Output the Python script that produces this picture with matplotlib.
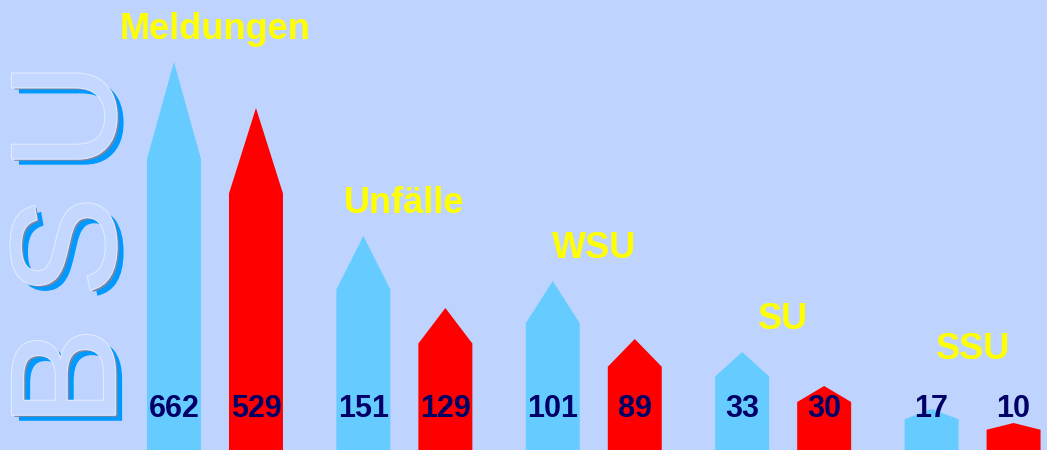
import matplotlib
matplotlib.use('Agg')
import matplotlib.pyplot as plt
import matplotlib.patheffects as pe
from matplotlib.patches import Polygon

categories = ['Meldungen', 'Unfälle', 'WSU', 'SU', 'SSU']
values_blue = [662, 151, 101, 33, 17]
values_red = [529, 129, 89, 30, 10]
# the arrows in the original are not drawn to scale, so keep their drawn heights
heights_blue = [388, 214, 169, 98, 41]
heights_red = [342, 142, 111, 64, 27]
side_letters = ['B', 'S', 'U']

BG = '#BED4FF'
BLUE = '#66CCFF'
RED = '#FF0000'
NAVY = '#000066'
YELLOW = '#FFFF00'

plt.rcParams['font.family'] = ['Liberation Sans', 'DejaVu Sans']

fig = plt.figure(figsize=(10.47, 4.5), dpi=100, facecolor=BG)
ax = fig.add_axes([0, 0, 1, 1])
ax.set_xlim(-1.135, 4.393)
ax.set_ylim(0, 450)
ax.axis('off')

bar_w = 0.285
offset = 0.2165
head = 0.25


def arrow(x, h, color):
    w = bar_w / 2
    s = h * (1 - head)
    pts = [(x - w, 0), (x - w, s), (x, h), (x + w, s), (x + w, 0)]
    ax.add_patch(Polygon(pts, closed=True, fc=color, ec='none'))


for i, cat in enumerate(categories):
    xb, xr = i - offset, i + offset
    arrow(xb, heights_blue[i], BLUE)
    arrow(xr, heights_red[i], RED)
    ax.text(xb, 33, str(values_blue[i]), ha='center', va='baseline',
            fontsize=22, fontweight='bold', color=NAVY)
    ax.text(xr, 33, str(values_red[i]), ha='center', va='baseline',
            fontsize=22, fontweight='bold', color=NAVY)
    label_y = max(heights_blue[i], 68) + 23
    ax.text(i, label_y, cat, ha='center', va='baseline',
            fontsize=26, fontweight='bold', color=YELLOW)

# vertical "B S U" with a drop shadow
effects = [
    pe.SimplePatchShadow(offset=(5, -4.3), shadow_rgbFace='#0099FF', alpha=1, rho=1),
    pe.SimplePatchShadow(offset=(1.8, -1.5), shadow_rgbFace='#7886A6', alpha=1, rho=1),
    pe.Stroke(linewidth=1.5, foreground='#E2EBFF'),
    pe.Normal(),
]
for i, letter in enumerate(side_letters):
    fig.text(0.11, 0.162 + i * 0.29, letter, rotation=90, rotation_mode='anchor',
             ha='center', va='baseline', fontsize=108, color='#C4D7FF',
             path_effects=effects)

fig.savefig('out.png', dpi=100, facecolor=BG)
